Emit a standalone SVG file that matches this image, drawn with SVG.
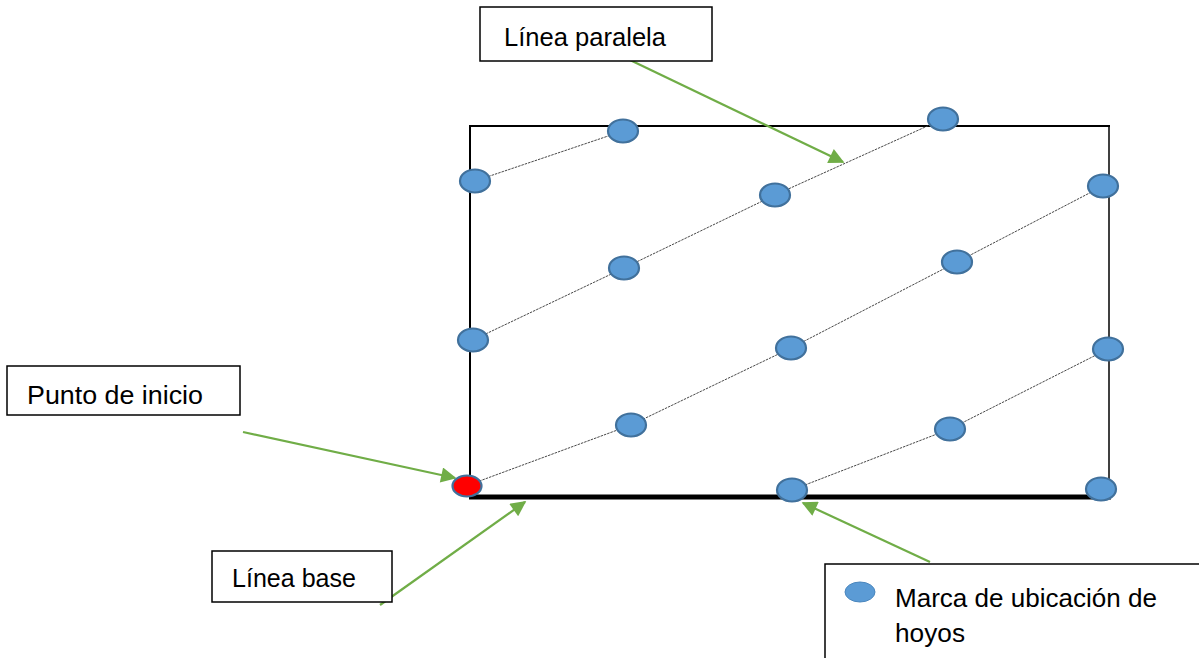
<svg xmlns="http://www.w3.org/2000/svg" width="1199" height="658" viewBox="0 0 1199 658">
<style>
.box{fill:#fff;stroke:#000;stroke-width:1.5}
.lbl{font-family:"Liberation Sans",Arial,sans-serif;font-size:25px;fill:#000}
.mark{fill:#5B9BD5;stroke:#41719C;stroke-width:2.2}
.start{fill:#FF0000;stroke:#41719C;stroke-width:2.2}
.path{stroke:#333;stroke-width:0.9;fill:none;stroke-dasharray:2.5 1}
.arrow{stroke:#70AD47;stroke-width:2.2;fill:none;marker-end:url(#ah)}
</style>
<defs>
<marker id="ah" viewBox="0 0 10 10" refX="9" refY="5" markerWidth="8.5" markerHeight="7" markerUnits="strokeWidth" orient="auto">
<path d="M0,0 L10,5 L0,10 z" fill="#70AD47"/>
</marker>
</defs>
<rect width="1199" height="658" fill="#fff"/>
<g id="field">
<line x1="470" y1="126" x2="1110" y2="126" stroke="#000" stroke-width="2"/>
<line x1="470" y1="125" x2="470" y2="499" stroke="#000" stroke-width="2"/>
<line x1="1109" y1="126" x2="1109" y2="499" stroke="#000" stroke-width="1.5"/>
<line x1="469" y1="497" x2="1111" y2="497" stroke="#000" stroke-width="5"/>
</g>
<g id="connectors">
<polyline class="path" points="475,181 623,131"/>
<polyline class="path" points="473,340 624,268 775,195 943,119"/>
<polyline class="path" points="466,486 631,425 791,348 957,262 1103,186"/>
<polyline class="path" points="792,490 950,429 1108,349"/>
<line class="arrow" x1="630" y1="60" x2="843" y2="162"/>
<line class="arrow" x1="243" y1="432" x2="455" y2="478"/>
<line class="arrow" x1="380" y1="605" x2="525" y2="502"/>
<line class="arrow" x1="930" y1="562" x2="803" y2="503"/>
</g>
<g id="marks">
<ellipse class="mark" cx="623" cy="131" rx="15" ry="11.5"/>
<ellipse class="mark" cx="943" cy="119" rx="15" ry="11.5"/>
<ellipse class="mark" cx="475" cy="181" rx="15" ry="11.5"/>
<ellipse class="mark" cx="775" cy="195" rx="15" ry="11.5"/>
<ellipse class="mark" cx="1103" cy="186" rx="15" ry="11.5"/>
<ellipse class="mark" cx="624" cy="268" rx="15" ry="11.5"/>
<ellipse class="mark" cx="957" cy="262" rx="15" ry="11.5"/>
<ellipse class="mark" cx="473" cy="340" rx="15" ry="11.5"/>
<ellipse class="mark" cx="791" cy="348" rx="15" ry="11.5"/>
<ellipse class="mark" cx="1108" cy="349" rx="15" ry="11.5"/>
<ellipse class="mark" cx="631" cy="425" rx="15" ry="11.5"/>
<ellipse class="mark" cx="950" cy="429" rx="15" ry="11.5"/>
<ellipse class="mark" cx="792" cy="490" rx="15" ry="11.5"/>
<ellipse class="mark" cx="1101" cy="489" rx="15" ry="11.5"/>
</g>
<g id="start-point">
<ellipse class="start" cx="467" cy="486" rx="14.5" ry="10.5"/>
</g>
<g id="label-paralela">
<rect class="box" x="480" y="7" width="232" height="54"/>
<text class="lbl" x="504" y="46" textLength="162" lengthAdjust="spacingAndGlyphs">Línea paralela</text>
</g>
<g id="label-inicio">
<rect class="box" x="7" y="366" width="233" height="49"/>
<text class="lbl" x="27" y="404" textLength="176" lengthAdjust="spacingAndGlyphs">Punto de inicio</text>
</g>
<g id="label-base">
<rect class="box" x="212" y="551" width="180" height="51"/>
<text class="lbl" x="232" y="587" textLength="124" lengthAdjust="spacingAndGlyphs">Línea base</text>
</g>
<g id="legend">
<rect class="box" x="825" y="564" width="380" height="100"/>
<ellipse cx="860" cy="592" rx="15" ry="10" fill="#5B9BD5" stroke="#4A86BD" stroke-width="1"/>
<text class="lbl" x="895" y="607" textLength="262" lengthAdjust="spacingAndGlyphs">Marca de ubicación de</text>
<text class="lbl" x="895" y="642" textLength="70" lengthAdjust="spacingAndGlyphs">hoyos</text>
</g>
</svg>
